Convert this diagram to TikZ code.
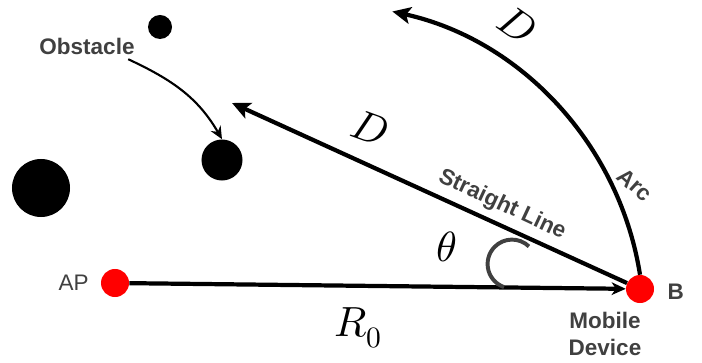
\documentclass[tikz,border=0pt]{standalone}
\usepackage{fontspec}
\usepackage{unicode-math}
\setmainfont{Liberation Sans}
\usetikzlibrary{arrows.meta,positioning}
\definecolor{dot-red}{HTML}{FF0000}
\definecolor{text-gray}{HTML}{404040}

\begin{document}
\begin{tikzpicture}[x=0.025cm, y=0.025cm,
        every node/.style={font=\fontsize{16}{19}\selectfont, text=text-gray},
        bold/.style={font=\fontsize{16}{19}\selectfont\bfseries},
        dot/.style={circle, fill=dot-red, inner sep=0pt, minimum size=0.7cm},
        obstacle/.style={circle, fill=black, inner sep=0pt},
        mainline/.style={line width=3pt, black},
        bigmath/.style={font=\fontsize{30}{30}\selectfont, text=black}]
  \useasboundingbox (0,0) rectangle (702,362);
  % access point and mobile device
  \node[dot] (AP) at (115,79) {};
  \node[dot] (B) at (640,73) {};
  \node[left=5pt of AP] (APlabel) {AP};
  \node[right=6pt of B, yshift=-2pt, bold] (Blabel) {B};
  \node[below=3pt of B, xshift=-0.875cm, align=center, bold] (mobile) {Mobile\\Device};
  % obstacles
  \node[obstacle, minimum size=0.6cm] (obsA) at (160,335) {};
  \node[obstacle, minimum size=1.025cm] (obsB) at (222,202) {};
  \node[obstacle, minimum size=1.45cm] (obsC) at (41,174) {};
  \node[bold] (obst) at (87,316) {Obstacle};
  \draw[line width=1.5pt, -{Stealth[length=9pt, width=8pt]}] ([xshift=-8pt]obst.south east) to[out=-25, in=120] (obsB.north);
  % paths
  \coordinate (lineTip) at (232,259);
  \draw[mainline, -{Stealth[length=10pt, width=9pt, inset=3pt]}] (AP) -- (B);
  \draw[mainline, -{Stealth[length=13pt, width=12pt, inset=3pt]}] (B) -- (lineTip);
  \draw[mainline, -{Stealth[length=13pt, width=12pt, inset=3pt]}] (B.north) arc[start angle=9, end angle=77.5, radius=8.025cm];
  % angle mark
  \coordinate (thc) at (512,98);
  \draw[line width=2.8pt, text-gray] (thc) ++(46:0.61cm) arc[start angle=46, end angle=251, radius=0.61cm];
  % labels
  \node[bold, rotate=-25] (sl) at (502,157) {Straight Line};
  \node[bold, rotate=-42] (arclabel) at (635,177) {Arc};
  \node[bigmath, rotate=-20] (D1) at (370,234) {$D$};
  \node[bigmath, rotate=-35] (D2) at (517,337) {$D$};
  \node[bigmath] (theta) at (447,115) {$\theta$};
  \node[bigmath] (R0) at (358,34) {$R_0$};
\end{tikzpicture}
\end{document}
